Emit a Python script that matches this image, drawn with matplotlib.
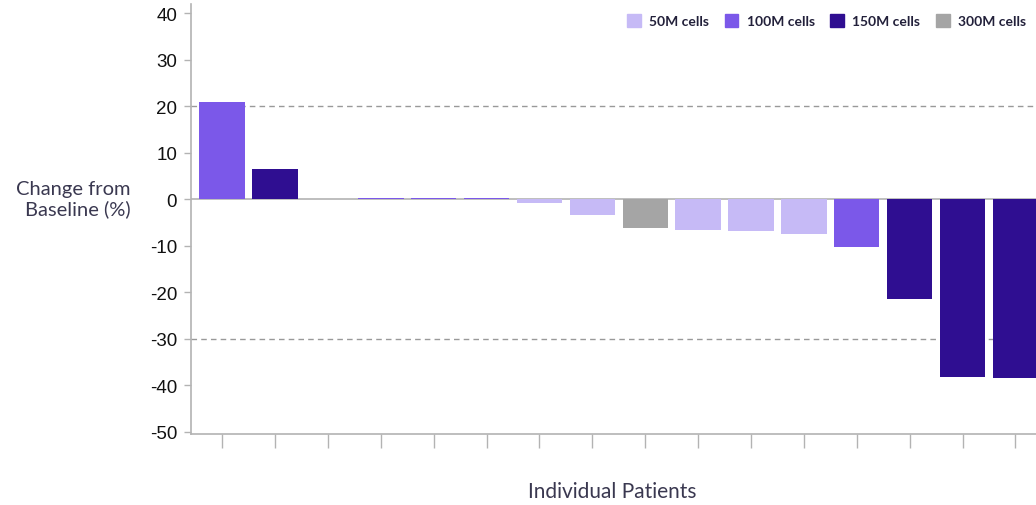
import matplotlib
matplotlib.use("Agg")
import matplotlib.pyplot as plt
import matplotlib.patches as patches
import numpy as np

# data
patients = list(range(1, 17))
change = [21.0, 6.5, 0.0, 0.25, 0.25, 0.25, -0.8, -3.3, -6.2, -6.6, -6.8, -7.4,
          -10.3, -21.5, -38.3, -38.5]
dose = ['100M', '150M', '150M', '100M', '100M', '100M', '50M', '50M', '300M',
        '50M', '50M', '50M', '100M', '150M', '150M', '150M']
doses = ['50M', '100M', '150M', '300M']
colors = {'50M': '#c6baf6', '100M': '#7b58e9', '150M': '#2f0e91', '300M': '#a5a5a5'}
yticks = list(range(-50, 41, 10))
ref_lines = [20, -30]

grey = '#b3b3b3'
txt = '#3a3850'

fig = plt.figure(figsize=(10.36, 5.06), dpi=100)
ax = fig.add_axes([0.1844, 0.1403, 0.8156, 0.850])

x = np.arange(len(patients))
ax.bar(x, change, width=0.86, color=[colors[d] for d in dose], zorder=3)

ax.axhline(0, color=grey, lw=1.2, zorder=2)
for v in ref_lines:
    ax.axhline(v, color='#999999', lw=1, ls=(0, (4, 3)), zorder=1)

ax.set_xlim(-0.59, 15.39)
ax.set_ylim(-50.5, 42)
ax.set_yticks(yticks)
ax.set_yticklabels([str(t) for t in yticks], fontsize=13.5, color='#111111',
                   family='Liberation Sans')
ax.set_xticks(x)
ax.set_xticklabels([])
ax.tick_params(axis='y', length=5, color=grey, width=1, pad=5)
ax.tick_params(axis='x', length=10, color=grey, width=1, direction='out')

for s in ['top', 'right']:
    ax.spines[s].set_visible(False)
for s in ['left', 'bottom']:
    ax.spines[s].set_color(grey)
    ax.spines[s].set_linewidth(1.2)

fig.text(0.126, 0.605, 'Change from\nBaseline (%)', ha='right', va='center',
         fontsize=14.5, color=txt, family='Lato', linespacing=1.15)
fig.text(0.591, 0.027, 'Individual Patients', ha='center', va='center',
         fontsize=15, color=txt, family='Lato')

handles = [patches.Patch(color=colors[d]) for d in doses]
leg = ax.legend(handles, [d + ' cells' for d in doses], loc='upper right',
                ncol=4, frameon=False, bbox_to_anchor=(1.003, 1.005),
                prop={'family': 'Lato', 'weight': 'bold', 'size': 10},
                handlelength=1.0, handleheight=1.0, columnspacing=1.1,
                handletextpad=0.6)
for t in leg.get_texts():
    t.set_color('#22203a')

fig.savefig('out.png', dpi=100)
